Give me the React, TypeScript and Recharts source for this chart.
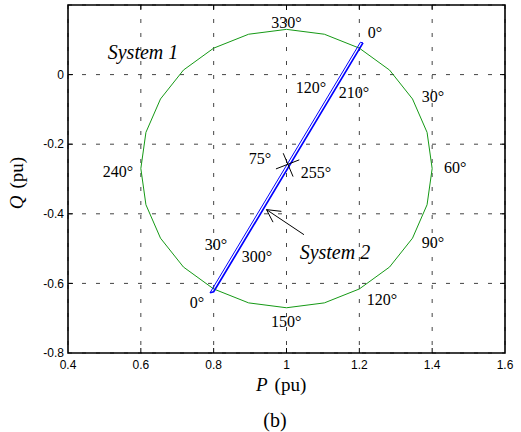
import React from "react";
import {
  ComposedChart,
  Line,
  XAxis,
  YAxis,
  CartesianGrid,
  ReferenceArea,
  Scatter,
} from "recharts";

// Power-circle locus of System 1 (P, Q in pu), vertices every 15 degrees
const circleP = [1.4, 1.386, 1.346, 1.283, 1.2, 1.104, 1.0, 0.896, 0.8, 0.717, 0.654, 0.614, 0.6,
  0.614, 0.654, 0.717, 0.8, 0.896, 1.0, 1.104, 1.2, 1.283, 1.346, 1.386, 1.4];
const circleQ = [-0.27, -0.166, -0.07, 0.013, 0.076, 0.116, 0.13, 0.116, 0.076, 0.013, -0.07, -0.166, -0.27,
  -0.374, -0.47, -0.553, -0.616, -0.656, -0.67, -0.656, -0.616, -0.553, -0.47, -0.374, -0.27];

// System 2 trajectory: outgoing (thin) and returning (heavier) passes
const traceOutP = [0.79, 1.203, 1.21];
const traceOutQ = [-0.627, 0.093, 0.091];
const traceBackP = [1.21, 0.8, 0.79];
const traceBackQ = [0.091, -0.624, -0.627];

// Cross marking the operating point
const crossAP = [0.991, 1.018];
const crossAQ = [-0.226, -0.293];
const crossBP = [0.971, 1.035];
const crossBQ = [-0.271, -0.245];

// Arrow pointing at the System 2 trace
const arrowShaftP = [1.048, 0.945];
const arrowShaftQ = [-0.46, -0.388];
const arrowHeadP = [0.986, 0.945, 0.963];
const arrowHeadQ = [-0.393, -0.388, -0.424];

// Axis ticks
const xTicks = [0.4, 0.6, 0.8, 1.0, 1.2, 1.4, 1.6];
const yTicks = [-0.8, -0.6, -0.4, -0.2, 0, 0.2];
const yLabelTicks = [-0.8, -0.6, -0.4, -0.2, 0];

// Angle annotations
const angleText = ["330°", "0°", "120°", "210°", "30°", "75°", "255°", "240°", "60°",
  "30°", "300°", "90°", "0°", "120°", "150°"];
const angleP = [1.0, 1.243, 1.067, 1.185, 1.402, 0.927, 1.081, 0.537, 1.463,
  0.806, 0.919, 1.402, 0.754, 1.262, 0.999];
const angleQ = [0.151, 0.12, -0.036, -0.05, -0.064, -0.24, -0.28, -0.277, -0.268,
  -0.487, -0.521, -0.481, -0.656, -0.645, -0.708];

const systemText = ["System 1", "System 2"];
const systemP = [0.606, 1.133];
const systemQ = [0.065, -0.51];

const zip = (ps: number[], qs: number[]) => ps.map((p, i) => ({ p, q: qs[i] }));

const circleData = zip(circleP, circleQ);
const traceOut = zip(traceOutP, traceOutQ);
const traceBack = zip(traceBackP, traceBackQ);
const crossA = zip(crossAP, crossAQ);
const crossB = zip(crossBP, crossBQ);
const arrowShaft = zip(arrowShaftP, arrowShaftQ);
const arrowHead = zip(arrowHeadP, arrowHeadQ);
const angleData = angleText.map((t, i) => ({ p: angleP[i], q: angleQ[i], t }));
const systemData = systemText.map((t, i) => ({ p: systemP[i], q: systemQ[i], t }));

const bottomTicks = xTicks.slice(1, -1).map((p) => ({ p, q: -0.8 }));
const topTicks = xTicks.slice(1, -1).map((p) => ({ p, q: 0.2 }));
const leftTicks = yTicks.slice(1, -1).map((q) => ({ p: 0.4, q }));
const rightTicks = yTicks.slice(1, -1).map((q) => ({ p: 1.6, q }));

const serif = { fontFamily: "Liberation Serif, Times New Roman, serif" };
const sans = { fontFamily: "Liberation Sans, Arial, sans-serif" };

const tickMark = (dx: number, dy: number) => (props: any) => (
  <line x1={props.cx} y1={props.cy} x2={props.cx + dx} y2={props.cy + dy} stroke="#000" strokeWidth={1} />
);

const AngleLabel = (props: any) => (
  <text x={props.cx} y={props.cy} dy="0.35em" textAnchor="middle" style={{ ...serif, fontSize: 16 }} fill="#000">
    {props.payload.t}
  </text>
);

const SystemLabel = (props: any) => (
  <text x={props.cx} y={props.cy} dy="0.35em" textAnchor="middle" style={{ ...serif, fontSize: 20, fontStyle: "italic" }} fill="#000">
    {props.payload.t}
  </text>
);

const XTick = (props: any) => (
  <text x={props.x} y={props.y} dy="0.71em" textAnchor="middle" style={{ ...sans, fontSize: 12 }} fill="#000">
    {String(props.payload.value)}
  </text>
);

const YTick = (props: any) => (
  <text x={props.x} y={props.y} dy="0.35em" textAnchor="end" style={{ ...sans, fontSize: 12 }} fill="#000">
    {String(props.payload.value)}
  </text>
);

export default function App() {
  return (
    <div style={{ position: "absolute", left: 0, top: 0, width: 521, height: 432, background: "#fff" }}>
      <ComposedChart
        width={521}
        height={432}
        margin={{ top: 5, right: 16, bottom: 49, left: 8 }}
      >
        <CartesianGrid stroke="#444" strokeDasharray="4 10" horizontalValues={yTicks} verticalValues={xTicks} />
        <XAxis
          type="number"
          dataKey="p"
          domain={[0.4, 1.6]}
          ticks={xTicks}
          allowDataOverflow
          axisLine={false}
          tickLine={false}
          tickSize={7}
          tickMargin={0}
          height={30}
          tick={<XTick />}
        />
        <YAxis
          type="number"
          dataKey="q"
          domain={[-0.8, 0.2]}
          ticks={yLabelTicks}
          allowDataOverflow
          axisLine={false}
          tickLine={false}
          tickSize={4}
          tickMargin={0}
          width={60}
          tick={<YTick />}
        />
        <ReferenceArea x1={0.4} x2={1.6} y1={-0.8} y2={0.2} fill="none" stroke="#000" strokeWidth={1.6} />
        <Scatter data={bottomTicks} shape={tickMark(0, -5)} isAnimationActive={false} />
        <Scatter data={topTicks} shape={tickMark(0, 5)} isAnimationActive={false} />
        <Scatter data={leftTicks} shape={tickMark(5, 0)} isAnimationActive={false} />
        <Scatter data={rightTicks} shape={tickMark(-5, 0)} isAnimationActive={false} />

        <Line data={circleData} dataKey="q" stroke="#159915" strokeWidth={1} dot={false} isAnimationActive={false} />
        <Line data={traceOut} dataKey="q" stroke="#0000ff" strokeWidth={1} dot={false} isAnimationActive={false} />
        <Line data={traceBack} dataKey="q" stroke="#0000ff" strokeWidth={1.7} dot={false} isAnimationActive={false} />
        <Line data={crossA} dataKey="q" stroke="#000" strokeWidth={1} dot={false} isAnimationActive={false} />
        <Line data={crossB} dataKey="q" stroke="#000" strokeWidth={1} dot={false} isAnimationActive={false} />
        <Line data={arrowShaft} dataKey="q" stroke="#000" strokeWidth={1} dot={false} isAnimationActive={false} />
        <Line data={arrowHead} dataKey="q" stroke="#000" strokeWidth={1} dot={false} isAnimationActive={false} />

        <Scatter data={angleData} shape={<AngleLabel />} isAnimationActive={false} />
        <Scatter data={systemData} shape={<SystemLabel />} isAnimationActive={false} />
      </ComposedChart>
      <svg width={521} height={432} style={{ position: "absolute", left: 0, top: 0, pointerEvents: "none" }}>
        <text x={256} y={391} style={{ ...serif, fontSize: 19 }} fill="#000">
          <tspan style={{ fontStyle: "italic" }}>P</tspan>
          <tspan dx={7}>(pu)</tspan>
        </text>
        <text x={275} y={427} textAnchor="middle" style={{ ...serif, fontSize: 20 }} fill="#000">(b)</text>
        <text
          x={0}
          y={0}
          transform="translate(23,183) rotate(-90)"
          textAnchor="middle"
          style={{ ...serif, fontSize: 19 }}
          fill="#000"
        >
          <tspan style={{ fontStyle: "italic" }}>Q</tspan>
          <tspan dx={7}>(pu)</tspan>
        </text>
      </svg>
    </div>
  );
}
